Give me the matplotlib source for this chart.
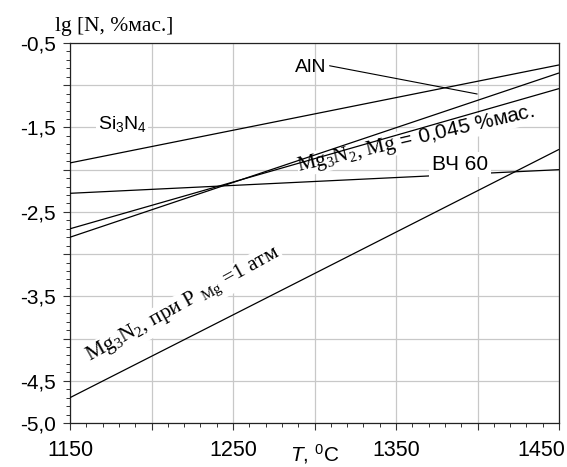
import matplotlib
matplotlib.use("Agg")
import matplotlib.pyplot as plt
import matplotlib.transforms as mtransforms
from matplotlib.ticker import FixedLocator, MultipleLocator

plt.rcParams['font.family'] = ['Liberation Sans', 'DejaVu Sans']
plt.rcParams['mathtext.fontset'] = 'custom'
plt.rcParams['mathtext.rm'] = 'Liberation Sans'
plt.rcParams['mathtext.it'] = 'Liberation Sans:italic'
plt.rcParams['mathtext.sf'] = 'Liberation Sans'

# ---- data ----
T = [1150, 1450]
si3n4 = [-1.92, -0.76]
aln = [-2.80, -0.855]
mg3n2_045 = [-2.70, -1.04]
vch60 = [-2.28, -2.00]
mg3n2_1atm = [-4.70, -1.76]

x_ticks = [1150, 1200, 1250, 1300, 1350, 1400, 1450]
x_labels = ['1150', '', '1250', '', '1350', '', '1450']
y_ticks = [-0.5, -1.0, -1.5, -2.0, -2.5, -3.0, -3.5, -4.0, -4.5, -5.0]
y_labels = ['-0,5', '', '-1,5', '', '-2,5', '', '-3,5', '', '-4,5', '-5,0']

W, H = 567, 467
fig = plt.figure(figsize=(W / 100, H / 100), dpi=100)
ax = fig.add_axes([70 / W, 1 - 423 / H, (559 - 70) / W, (423 - 43) / H])

ax.set_xlim(1150, 1450)
ax.set_ylim(-5.0, -0.5)

lw = 0.9
for ys in (si3n4, aln, mg3n2_045, vch60, mg3n2_1atm):
    ax.plot(T, ys, color='black', lw=lw, zorder=5, solid_capstyle='butt')

ax.xaxis.set_major_locator(FixedLocator(x_ticks))
ax.set_xticklabels(x_labels)
ax.xaxis.set_minor_locator(MultipleLocator(10))
ax.yaxis.set_major_locator(FixedLocator(y_ticks))
ax.set_yticklabels(y_labels)
ax.yaxis.set_minor_locator(MultipleLocator(0.1))

ax.grid(True, which='major', color='#c8c8c8', lw=0.9, zorder=0)
ax.set_axisbelow(True)
ax.tick_params(axis='both', which='major', direction='out', length=5, width=0.8,
               color='#333333')
ax.tick_params(axis='both', which='minor', direction='out', length=3, width=0.7,
               color='#333333')
ax.tick_params(axis='x', which='major', labelsize=15.5, pad=7)
ax.tick_params(axis='y', which='major', labelsize=15, pad=5)
for s in ax.spines.values():
    s.set_linewidth(0.9)
    s.set_color('#222222')

# last x tick label is pulled in so it stays inside the figure
last = ax.get_xticklabels()[-1]
last.set_horizontalalignment('right')
last.set_transform(last.get_transform() +
                   mtransforms.ScaledTranslation(6 / 100, 0, fig.dpi_scale_trans))

bb = dict(facecolor='white', edgecolor='none', pad=1.0)
bb0 = dict(facecolor='white', edgecolor='none', pad=0.0)

# axis labels
fig.text(55 / W, 1 - 31 / H, 'lg [N, %мас.]', family='Liberation Serif',
         fontsize=15.5, ha='left', va='baseline')
fig.text(315 / W, 1 - 466 / H, r'$\mathit{T}$, $^{0}$C', fontsize=15,
         ha='center', va='bottom')

# curve labels
ax.text(1167, -1.518, r'Si$_{\mathregular{3}}$N$_{\mathregular{4}}$', fontsize=14,
        ha='left', va='baseline', bbox=bb, zorder=4)
ax.annotate('AlN', xy=(1399.8, -1.104), xytext=(1288, -0.843), fontsize=14,
            ha='left', va='baseline', zorder=4,
            arrowprops=dict(arrowstyle='-', color='black', lw=0.8,
                            shrinkA=0, shrinkB=0, relpos=(1.1, 0.6)))
ax.text(1372, -2.004, 'ВЧ 60', fontsize=15, ha='left', va='baseline',
        bbox=dict(facecolor='white', edgecolor='none', pad=2.0), zorder=6)
ax.text(1362, -1.64,
        r'$\mathregular{Mg_3N_2}$, Mg$\mathrm{\,=\,0{,}045\ \%мас.}$',
        family='Liberation Serif', fontsize=15, rotation=13,
        rotation_mode='anchor', ha='center', va='center', bbox=bb0, zorder=4)
ax.text(1220, -3.61,
        r'$\mathregular{Mg_3N_2}$, при P $_{\mathregular{Mg}}$ =1 атм',
        family='Liberation Serif', fontsize=15.5, rotation=29,
        rotation_mode='anchor', ha='center', va='center', bbox=bb, zorder=4)

fig.savefig('out.png', dpi=100)
